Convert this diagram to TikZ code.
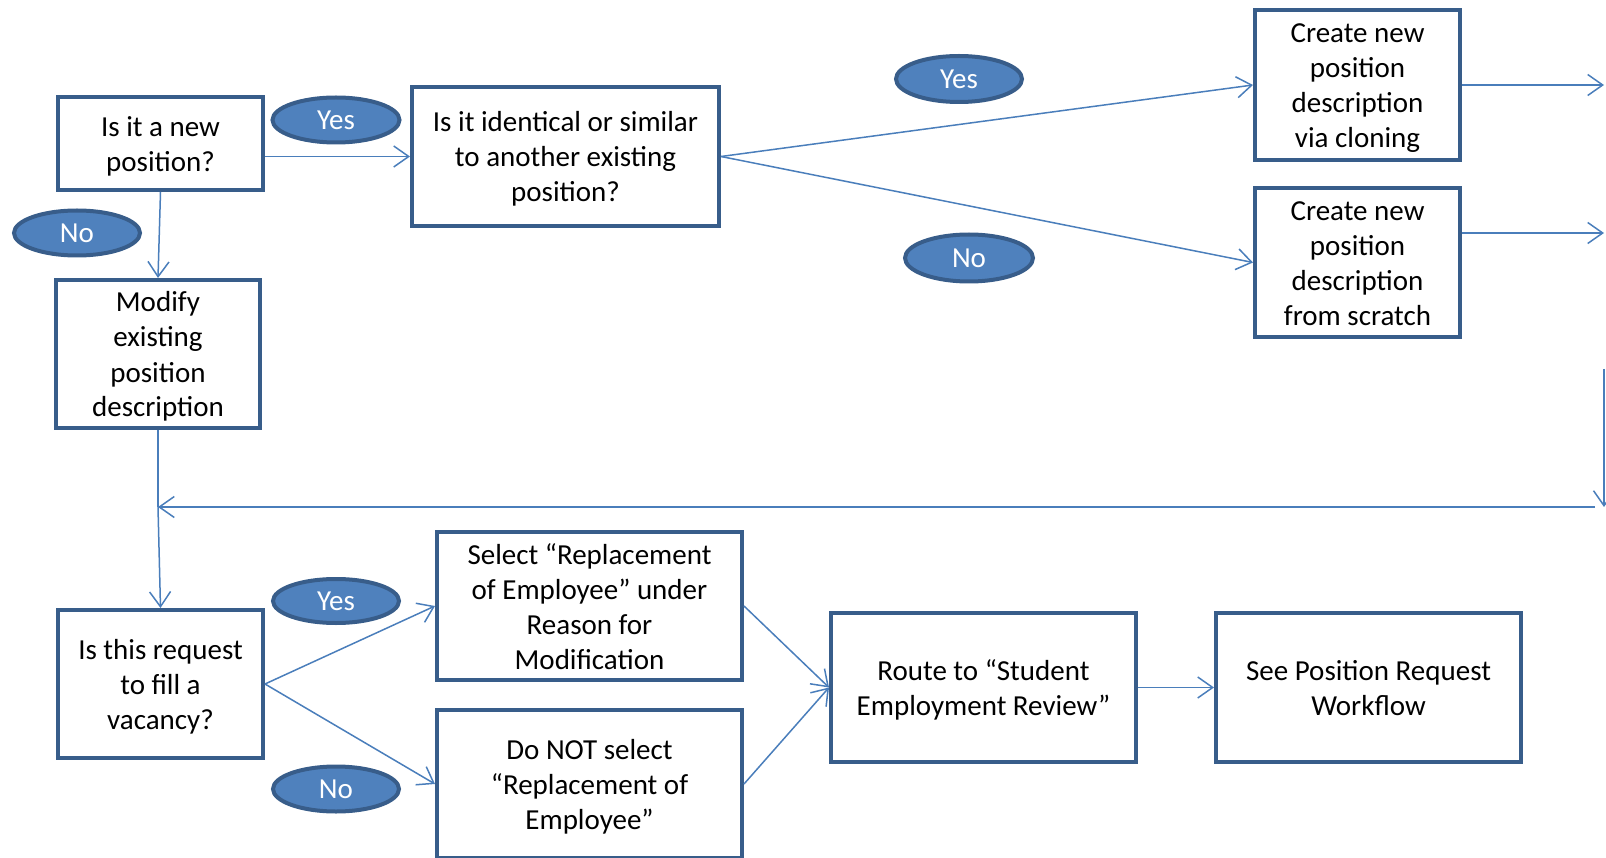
\documentclass[tikz,border=0pt]{standalone}
\usepackage{fontspec}
\setmainfont{Carlito}
\usetikzlibrary{arrows.meta,shapes.geometric}
\definecolor{boxline}{HTML}{385D8A}
\definecolor{ovalfill}{HTML}{4F81BD}
\definecolor{linkc}{HTML}{4A7EBB}
% centred lines of box text, set on struts and dropped a little
\newcommand\boxlines[1]{\raisebox{-3.5pt}[\height][\depth]{\begin{tabular}{@{}c@{}}#1\end{tabular}}}
\begin{document}
\begin{tikzpicture}[x=1pt,y=-1pt,
  every node/.style={font=\fontsize{29}{35}\selectfont},
  stepbox/.style={draw=boxline,line width=4pt,fill=white,align=center,inner sep=0pt},
  oval/.style={ellipse,draw=boxline,fill=ovalfill,line width=4pt,text=white,inner sep=0pt},
  link/.style={draw=linkc,line width=1.5pt,-{Straight Barb[length=15pt,width=21pt,line width=1.5pt]}},
  plain/.style={draw=linkc,line width=1.5pt}]
\useasboundingbox (0,0) rectangle (1606,858);
\clip (0,0) rectangle (1606,858);

% decision and action boxes
\node[stepbox,minimum width=205pt,minimum height=93pt] (newpos) at (160.5,143.5) {\boxlines{Is it a new\\position?}};
\node[stepbox,minimum width=307pt,minimum height=139pt] (similar) at (565.5,156.5) {\boxlines{Is it identical or similar\\to another existing\\position?}};
\node[stepbox,minimum width=205pt,minimum height=150pt] (clone) at (1357.5,85) {\boxlines{Create new\\position\\description\\via cloning}};
\node[stepbox,minimum width=205pt,minimum height=149pt] (scratch) at (1357.5,262.5) {\boxlines{Create new\\position\\description\\from scratch}};
\node[stepbox,minimum width=204pt,minimum height=148pt] (modify) at (158,354) {\boxlines{Modify\\existing\\position\\description}};
\node[stepbox,minimum width=205pt,minimum height=148pt] (vacancy) at (160.5,684) {\boxlines{Is this request\\to fill a\\vacancy?}};
\node[stepbox,minimum width=305pt,minimum height=148pt] (select) at (589.5,606) {\boxlines{Select “Replacement\\of Employee” under\\Reason for\\Modification}};
\node[stepbox,minimum width=305pt,minimum height=148pt] (donot) at (589.5,784) {\boxlines{Do NOT select\\“Replacement of\\Employee”}};
\node[stepbox,minimum width=305pt,minimum height=149pt] (route) at (983.5,687.5) {\boxlines{Route to “Student\\Employment Review”}};
\node[stepbox,minimum width=305pt,minimum height=149pt] (see) at (1368.5,687.5) {\boxlines{See Position Request\\Workflow}};

% yes / no labels
\node[oval,minimum width=127pt,minimum height=45pt] (yesA) at (336,120) {Yes};
\node[oval,minimum width=126pt,minimum height=45pt] (noA) at (77,233) {No};
\node[oval,minimum width=126pt,minimum height=46pt] (yesB) at (959,79) {Yes};
\node[oval,minimum width=128pt,minimum height=47pt] (noB) at (969,258) {No};
\node[oval,minimum width=126pt,minimum height=44pt] (yesC) at (336,601) {Yes};
\node[oval,minimum width=126pt,minimum height=45pt] (noC) at (336,789) {No};

% free ends at the right edge and the return line
\coordinate (cloneout) at (1604,85);
\coordinate (scratchout) at (1604,233);
\coordinate (backtop) at (1604,369);
\coordinate (backbot) at (1604,507);
\coordinate (backstart) at (1595,507);

% connectors
\draw[link] (similar.west -| newpos.east) -- (similar.west);
\draw[link] (newpos.south) -- (modify.north);
\draw[link] (similar.east) -- (clone.west);
\draw[link] (similar.east) -- (scratch.west);
\draw[link] (clone.east) -- (cloneout);
\draw[link] (scratch.east |- scratchout) -- (scratchout);
\draw[link] (backtop) -- (backbot);
\draw[link] (backstart) -- (modify.south |- backstart);
\draw[plain] (modify.south) -- (modify.south |- backstart);
\draw[link] (modify.south |- backstart) -- (vacancy.north);
\draw[link] (vacancy.east) -- (select.west);
\draw[link] (vacancy.east) -- (donot.west);
\draw[link] (select.east) -- (route.west);
\draw[link] (donot.east) -- (route.west);
\draw[link] (route.east) -- (see.west);
\end{tikzpicture}
\end{document}
